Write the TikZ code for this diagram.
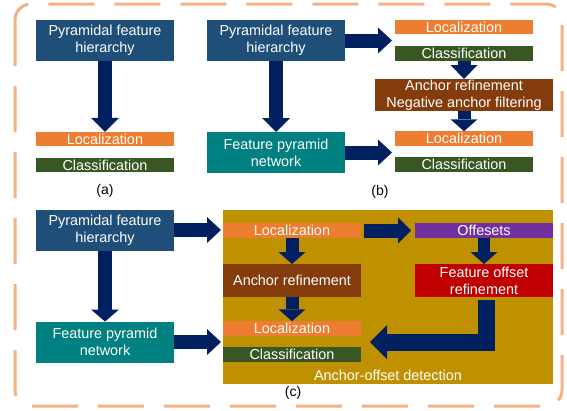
\documentclass[tikz,border=0pt]{standalone}
\usepackage{fontspec}
\setmainfont{Liberation Sans}
\usetikzlibrary{arrows.meta}
\definecolor{boxblue}{HTML}{1F4E79}
\definecolor{navy}{HTML}{002060}
\definecolor{orng}{HTML}{ED7D31}
\definecolor{grn}{HTML}{385723}
\definecolor{brwn}{HTML}{843C0C}
\definecolor{teal2}{HTML}{008080}
\definecolor{gold}{HTML}{BF9000}
\definecolor{purp}{HTML}{7030A0}
\definecolor{redd}{HTML}{C00000}
\definecolor{bord}{HTML}{F4B183}
\begin{document}
\begin{tikzpicture}[x=1pt,y=-1pt,
  box/.style={inner sep=0pt, outer sep=0pt, text=white, align=center,
    font=\fontsize{14.4}{17}\selectfont},
  bigbox/.style={box, minimum width=138pt, minimum height=41pt},
  bar/.style={box, minimum width=138pt, minimum height=14.5pt},
  capt/.style={font=\fontsize{14}{17}\selectfont, text=black},
  fat/.style n args={3}{draw=navy, line width=#1,
    -{Triangle[width=#2,length=#3,line width=0pt]}}
]
\useasboundingbox (0,0) rectangle (567,410);
\draw[draw=bord, line width=3pt, dash pattern=on 46pt off 20pt, rounded corners=16pt]
  (15,4) rectangle (562,406);

% ---------- (a)
\node[bigbox, fill=boxblue] (pa) at (105,40.5) {Pyramidal feature\\hierarchy};
\node[bar, fill=orng] (la) at (105,139) {Localization};
\node[bar, fill=grn] (ca) at (105,165) {Classification};
\node[capt] (capa) at (105,191) {(a)};
\draw[fat={14pt}{28pt}{14pt}] (pa.south) -- (la.north);

% ---------- (b)
\node[bigbox, fill=boxblue] (pb) at (276,40.5) {Pyramidal feature\\hierarchy};
\node[bigbox, fill=teal2] (fb) at (276,152.5) {Feature pyramid\\network};
\node[bar, fill=orng] (lb1) at (464,27) {Localization};
\node[bar, fill=grn] (cb1) at (464,53.5) {Classification};
\node[box, fill=brwn, minimum width=178pt, minimum height=32pt] (ab) at (464,95)
  {Anchor refinement\\Negative anchor filtering};
\node[bar, fill=orng] (lb2) at (464,138.5) {Localization};
\node[bar, fill=grn] (cb2) at (464,164.5) {Classification};
\node[capt] (capb) at (380,192) {(b)};
\draw[fat={14pt}{26pt}{14pt}, shorten >=3pt] (pb.east) -- (pb.east -| lb1.west);
\draw[fat={14pt}{26pt}{14pt}, shorten >=3pt] (fb.east) -- (fb.east -| lb2.west);
\draw[fat={14pt}{28pt}{14pt}] (pb.south) -- (fb.north);
\draw[fat={13pt}{27pt}{14pt}] (cb1.south) -- (ab.north);
\draw[fat={13pt}{27pt}{12pt}] (ab.south) -- (lb2.north);

% ---------- (c)
\node[box, fill=gold, minimum width=330pt, minimum height=174pt] (gold) at (388,297) {};
\node[bigbox, fill=boxblue] (pc) at (105,230) {Pyramidal feature\\hierarchy};
\node[bigbox, fill=teal2] (fc) at (105,342) {Feature pyramid\\network};
\node[bar, fill=orng] (lc1) at (292,230.5) {Localization};
\node[box, fill=brwn, minimum width=138pt, minimum height=33pt] (arc) at (292,280.5) {Anchor refinement};
\node[bar, fill=orng] (lc2) at (292,328.5) {Localization};
\node[bar, fill=grn] (cc) at (292,354.5) {Classification};
\node[bar, fill=purp] (off) at (484,230.5) {Offesets};
\node[box, fill=redd, minimum width=138pt, minimum height=33pt] (for) at (484,280.5)
  {Feature offset\\refinement};
\node[box] (aod) at (388,375) {Anchor-offset detection};
\node[capt] (capc) at (293,393) {(c)};
\coordinate (elb) at (370,342);
\draw[fat={14pt}{28pt}{12pt}] (pc.south) -- (fc.north);
\draw[fat={14pt}{26pt}{14pt}, shorten >=2pt] (pc.east) -- (pc.east -| gold.west);
\draw[fat={14pt}{26pt}{14pt}, shorten >=2pt] (fc.east) -- (fc.east -| gold.west);
\draw[fat={13pt}{27pt}{12pt}] (lc1.south) -- (arc.north);
\draw[fat={13pt}{27pt}{12pt}] (arc.south) -- (lc2.north);
\draw[fat={14pt}{26pt}{13pt}, shorten <=3pt, shorten >=4pt] (lc1.east) -- (off.west);
\draw[fat={12pt}{27pt}{12pt}] (off.south) -- (for.north);
\draw[fat={17pt}{34pt}{17pt}, line join=miter, shorten <=3pt]
  ([xshift=2.5pt]for.south) |- (elb);
\end{tikzpicture}
\end{document}
